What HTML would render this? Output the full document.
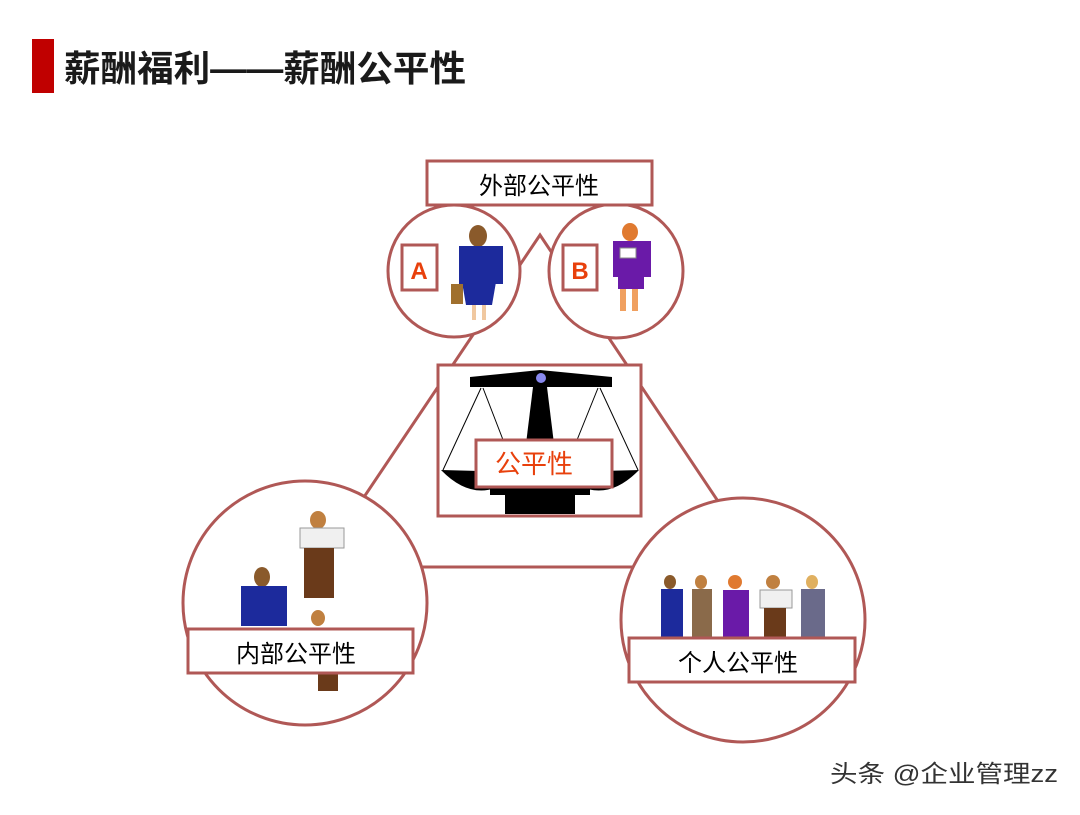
<!DOCTYPE html>
<html><head><meta charset="utf-8"><style>
body{margin:0;background:#fff;width:1080px;height:810px;overflow:hidden}
svg text{font-family:"Liberation Sans","Noto Sans CJK SC",sans-serif}
</style></head><body>
<svg width="1080" height="810" viewBox="0 0 1080 810" xmlns="http://www.w3.org/2000/svg">
<rect x="32" y="39" width="22" height="54" fill="#c00000"/>
<text x="64" y="81" font-size="36" font-weight="bold" fill="#1a1a1a" textLength="402" lengthAdjust="spacingAndGlyphs">薪酬福利——薪酬公平性</text>
<g stroke="#b05856" stroke-width="3" fill="none">
<polygon points="540,235 317,567 762,567"/>
</g>
<g stroke="#b05856" stroke-width="3" fill="#fff">
<circle cx="454" cy="271" r="66"/>
<circle cx="616" cy="271" r="67"/>
<circle cx="305" cy="603" r="122"/>
<circle cx="743" cy="620" r="122"/>
<rect x="427" y="161" width="225" height="44"/>
<rect x="438" y="365" width="203" height="151"/>
<rect x="402" y="245" width="35" height="45"/>
<rect x="563" y="245" width="34" height="45"/>
</g>
<text x="539" y="194" font-size="24" text-anchor="middle" fill="#000">外部公平性</text>
<text x="419" y="279" font-size="24" font-weight="bold" text-anchor="middle" fill="#e8400c">A</text>
<text x="580" y="279" font-size="24" font-weight="bold" text-anchor="middle" fill="#e8400c">B</text>
<g fill="#000">
<polygon points="470,377 540,370 612,377 612,387 470,387"/>
<polygon points="533,387 547,387 556,460 524,460"/>
<path d="M441,470 Q480,510 520,472 Z"/>
<path d="M560,472 Q600,510 639,470 Z"/>
<rect x="505" y="490" width="70" height="24"/>
<rect x="490" y="485" width="100" height="10"/>
</g>
<circle cx="541" cy="378" r="5" fill="#8888ee"/>
<g stroke="#000" stroke-width="1"><line x1="481" y1="388" x2="443" y2="470"/><line x1="483" y1="388" x2="505" y2="445"/><line x1="600" y1="388" x2="638" y2="470"/><line x1="598" y1="388" x2="575" y2="445"/></g>
<rect x="476" y="440" width="136" height="47" fill="#fff" stroke="#b05856" stroke-width="3"/>
<text x="534" y="473" font-size="26" text-anchor="middle" fill="#e8400c">公平性</text>
<g><ellipse cx="478" cy="236" rx="9" ry="11" fill="#8a5a2b"/><rect x="459" y="246" width="44" height="38" fill="#1c2a9c"/><polygon points="462,282 496,282 492,305 466,305" fill="#1c2a9c"/><rect x="451" y="284" width="12" height="20" fill="#a0702e"/><rect x="472" y="305" width="4" height="15" fill="#f0c8a0"/><rect x="482" y="305" width="4" height="15" fill="#f0c8a0"/></g>
<g><ellipse cx="630" cy="232" rx="8" ry="9" fill="#e07a30"/><rect x="613" y="241" width="38" height="36" fill="#6a1aa8"/><rect x="618" y="277" width="26" height="12" fill="#6a1aa8"/><rect x="620" y="289" width="6" height="22" fill="#f0a060"/><rect x="632" y="289" width="6" height="22" fill="#f0a060"/><rect x="620" y="248" width="16" height="10" fill="#fff" stroke="#888" stroke-width="1"/></g>
<g><ellipse cx="318" cy="520" rx="8" ry="9" fill="#c08040"/><rect x="300" y="528" width="44" height="20" fill="#f0f0f0" stroke="#999"/><rect x="304" y="548" width="30" height="50" fill="#6a3a1a"/>
<ellipse cx="262" cy="577" rx="8" ry="10" fill="#8a5a2b"/><rect x="241" y="586" width="46" height="40" fill="#1c2a9c"/>
<ellipse cx="318" cy="618" rx="7" ry="8" fill="#c08040"/><rect x="318" y="673" width="20" height="18" fill="#6a3a1a"/></g>
<rect x="188" y="629" width="225" height="44" fill="#fff" stroke="#b05856" stroke-width="3"/>
<text x="296" y="662" font-size="24" text-anchor="middle" fill="#000">内部公平性</text>
<g><ellipse cx="670" cy="582" rx="6" ry="7" fill="#8a5a2b"/><rect x="661" y="589" width="22" height="48" fill="#1c2a9c"/>
<ellipse cx="701" cy="582" rx="6" ry="7" fill="#c08040"/><rect x="692" y="589" width="20" height="48" fill="#8a6a4a"/>
<ellipse cx="735" cy="582" rx="7" ry="7" fill="#e07a30"/><rect x="723" y="590" width="26" height="48" fill="#6a1aa8"/>
<ellipse cx="773" cy="582" rx="7" ry="7" fill="#c08040"/><rect x="760" y="590" width="32" height="18" fill="#f0f0f0" stroke="#999"/><rect x="764" y="608" width="22" height="30" fill="#6a3a1a"/>
<ellipse cx="812" cy="582" rx="6" ry="7" fill="#e0b060"/><rect x="801" y="589" width="24" height="48" fill="#6a6a8a"/></g>
<rect x="629" y="638" width="226" height="44" fill="#fff" stroke="#b05856" stroke-width="3"/>
<text x="738" y="671" font-size="24" text-anchor="middle" fill="#000">个人公平性</text>
<text x="830" y="782" font-size="24" fill="#333" textLength="228" lengthAdjust="spacingAndGlyphs">头条 @企业管理zz</text>
</svg>
</body></html>
